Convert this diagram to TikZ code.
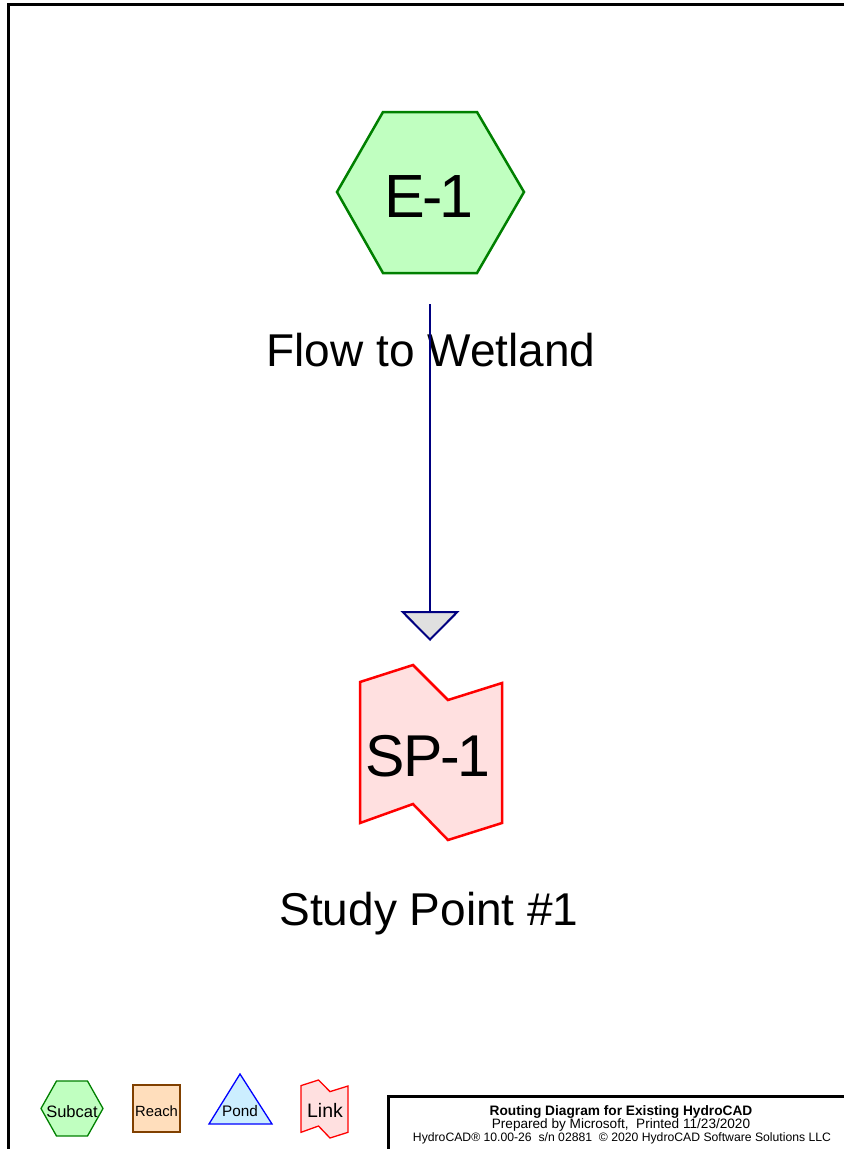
\documentclass[tikz,border=0pt]{standalone}
\usepackage{fontspec}
\setmainfont{Liberation Sans}
\usetikzlibrary{arrows.meta}

\definecolor{subfill}{RGB}{192,255,192}
\definecolor{subline}{RGB}{0,128,0}
\definecolor{linkfill}{RGB}{255,224,224}
\definecolor{linkline}{RGB}{255,0,0}
\definecolor{reachfill}{RGB}{255,222,188}
\definecolor{reachline}{RGB}{128,64,0}
\definecolor{pondfill}{RGB}{204,238,255}
\definecolor{pondline}{RGB}{0,0,255}
\definecolor{flowline}{RGB}{0,0,128}
\definecolor{tipfill}{RGB}{224,224,224}

\newcommand{\fs}[1]{\fontsize{#1}{#1}\selectfont}

\tikzset{
  frame/.style={line width=3pt},
  subcatshape/.style={draw=subline, fill=subfill, line join=miter},
  linkshape/.style={draw=linkline, fill=linkfill, line join=miter},
  reachshape/.style={draw=reachline, fill=reachfill},
  pondshape/.style={draw=pondline, fill=pondfill, line join=miter},
  txt/.style={inner sep=0pt, anchor=base},
  flow/.style={draw=flowline, line width=2pt,
    -{Triangle[width=59pt,length=30pt,fill=tipfill,line width=2pt]}}
}

\begin{document}
\begin{tikzpicture}[x=1pt,y=-1pt]
\useasboundingbox (0,0) rectangle (844,1149);

% sheet frame
\draw[frame] (844,4.5) -- (8.5,4.5) -- (8.5,1149);

% subcatchment E-1
\draw[subcatshape, line width=2.5pt]
  (337,192) -- (383,112) -- (477,112) -- (524,192) -- (477,273) -- (383,273) -- cycle;
\node[txt, font=\fs{61}] (e1) at (429,217) {E\kern-3pt-\kern-3pt1};
\node[txt, font=\fs{46}] (e1name) at (431,366) {Flow to Wetland};

% link SP-1
\draw[linkshape, line width=2.5pt]
  (360,682) -- (413,665) -- (448,700) -- (502,683) -- (502,823)
  -- (448,840) -- (413,804) -- (360,823) -- cycle;
\node[txt, font=\fs{59}] (sp1) at (428,776) {S\kern-2pt P\kern-2.5pt-\kern-2.5pt1};
\node[txt, font=\fs{46}] (sp1name) at (429,925) {Study Point \#1};

% routing connector
\coordinate (e1out) at (430,304);
\coordinate (sp1in) at (430,641);
\draw[flow] (e1out) -- (sp1in);

% legend
\draw[subcatshape, line width=1.3pt]
  (41,1108.5) -- (56.5,1081) -- (87.5,1081) -- (103,1108.5) -- (87.5,1136) -- (56.5,1136) -- cycle;
\node[txt, font=\fs{16.5}] (lgsub) at (72,1117) {Subcat};

\draw[reachshape, line width=1.3pt] (133,1085) rectangle (180,1132);
\node[txt, font=\fs{14.8}] (lgreach) at (156.5,1116) {Reach};

\draw[pondshape, line width=1.3pt] (240,1074) -- (272,1124) -- (209,1124) -- cycle;
\node[txt, font=\fs{15.3}] (lgpond) at (240,1116) {Pond};

\draw[linkshape, line width=1.3pt]
  (301,1085.6) -- (318.5,1080) -- (330,1091.6) -- (348,1086) -- (348,1132.3)
  -- (330,1138) -- (318.5,1126) -- (301,1132.3) -- cycle;
\node[txt, font=\fs{19.5}] (lglink) at (325,1117) {Link};

% title block
\draw[frame] (388,1149) -- (388,1096.5) -- (844,1096.5);
\node[txt, font=\fs{13.7}\bfseries] (t1) at (621,1115) {Routing Diagram for Existing HydroCAD};
\node[txt, font=\fs{13.6}] (t2) at (621,1128.5) {Prepared by Microsoft,\ \ Printed 11/23/2020};
\node[txt, font=\fs{12.2}] (t3) at (622,1141) {HydroCAD® 10.00-26\ \ s/n 02881\ \ © 2020 HydroCAD Software Solutions LLC};
\end{tikzpicture}
\end{document}
